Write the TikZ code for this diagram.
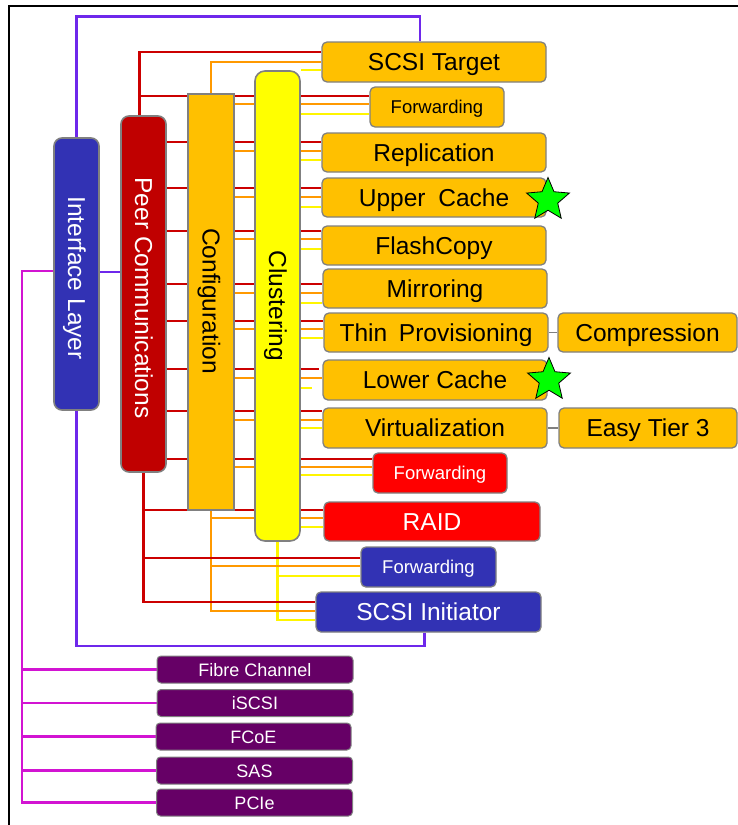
\documentclass[tikz,border=0pt]{standalone}
\usepackage{fontspec}
\setmainfont{Liberation Sans}
\usetikzlibrary{shapes.geometric,calc}
\pgfdeclarelayer{bg}
\pgfsetlayers{bg,main}

\definecolor{barblue}{RGB}{50,50,180}
\definecolor{peerred}{RGB}{192,0,0}
\definecolor{cfgorange}{RGB}{255,192,0}
\definecolor{clyellow}{RGB}{255,255,0}
\definecolor{boxred}{RGB}{255,0,0}
\definecolor{protpurple}{RGB}{102,0,102}
\definecolor{edgegray}{RGB}{128,128,128}
\definecolor{wred}{RGB}{204,0,0}
\definecolor{worange}{RGB}{255,153,0}
\definecolor{wyellow}{RGB}{255,245,0}
\definecolor{wviolet}{RGB}{110,40,235}
\definecolor{wmagenta}{RGB}{210,20,210}

\begin{document}
\begin{tikzpicture}[x=1pt, y=-1pt,
  lbl/.style={font=\fontsize{24.5}{28}\selectfont, text height=17pt, text depth=0pt},
  smalllbl/.style={font=\fontsize{18.5}{22}\selectfont, text height=13pt, text depth=0pt},
  bar/.style={draw=edgegray, line width=1.6pt, minimum width=45pt, inner sep=0pt},
  fn/.style={draw=edgegray, line width=1.3pt, rounded corners=5pt, inner sep=0pt, minimum height=39pt, lbl},
  orangefn/.style={fn, fill=cfgorange, text=black},
  redfn/.style={fn, fill=boxred, text=white},
  bluefn/.style={fn, fill=barblue, text=white},
  proto/.style={draw=edgegray, line width=1pt, rounded corners=4pt, fill=protpurple, text=white,
    minimum width=196pt, minimum height=27pt, inner sep=0pt,
    font=\fontsize{18}{20}\selectfont, text height=13pt, text depth=0pt},
  greenstar/.style={star, star points=5, star point ratio=2.2, draw=black, line width=0.8pt,
    fill=green, minimum size=45pt, inner sep=0pt},
  wr/.style={draw=wred, line width=2.3pt},
  wo/.style={draw=worange, line width=2.3pt},
  wy/.style={draw=wyellow, line width=2.3pt},
  wv/.style={draw=wviolet, line width=2.3pt},
  wm/.style={draw=wmagenta, line width=2.2pt},
  link/.style={draw=edgegray, line width=1.5pt}
]
\useasboundingbox (0,0) rectangle (738,825);

% vertical service layers
\node[bar, rounded corners=8pt, fill=barblue, minimum height=272pt] (IL) at (76.5,274) {};
\node[rotate=-90, text=white, lbl] (ILtxt) at (76.5,278) {Interface Layer};
\node[bar, rounded corners=8pt, fill=peerred, minimum height=356pt] (PC) at (143.5,294) {};
\node[rotate=-90, text=white, lbl] (PCtxt) at (143.5,298) {Peer Communications};
\node[bar, fill=cfgorange, minimum width=46pt, minimum height=416pt] (CF) at (211,302) {};
\node[rotate=-90, lbl] (CFtxt) at (211,301) {Configuration};
\node[bar, rounded corners=10pt, fill=clyellow, minimum height=470pt] (CL) at (277.5,306) {};
\node[rotate=-90, lbl] (CLtxt) at (277.5,306) {Clustering};

% I/O stack components
\node[orangefn, minimum width=224pt, minimum height=40pt] (st) at (434,62) {SCSI Target};
\node[orangefn, smalllbl, minimum width=134pt, minimum height=40pt] (fw1) at (437,107) {Forwarding};
\node[orangefn, minimum width=224pt] (rep) at (434,152.5) {Replication};
\node[orangefn, minimum width=224pt] (uc) at (434,197.5) {Upper\hspace{6pt} Cache};
\node[orangefn, minimum width=224pt] (fc) at (434,245.5) {FlashCopy};
\node[orangefn, minimum width=224pt] (mir) at (435,288.5) {Mirroring};
\node[orangefn, minimum width=224pt] (tp) at (436,332.5) {Thin\hspace{5pt} Provisioning};
\node[orangefn, minimum width=179pt] (cmp) at (647.5,332.5) {Compression};
\node[orangefn, minimum width=224pt, minimum height=40pt] (lc) at (435,380) {Lower Cache};
\node[orangefn, minimum width=224pt, minimum height=40pt] (vir) at (435,428) {Virtualization};
\node[orangefn, minimum width=178pt, minimum height=40pt] (et) at (648,428) {Easy Tier 3};
\node[redfn, smalllbl, minimum width=134pt, minimum height=40pt] (fw2) at (440,473) {Forwarding};
\node[redfn, minimum width=216pt] (raid) at (432,521.5) {RAID};
\node[bluefn, smalllbl, minimum width=135pt, minimum height=40pt] (fw3) at (428.5,567) {Forwarding};
\node[bluefn, minimum width=225pt, minimum height=40pt] (si) at (428.5,612) {SCSI Initiator};

\node[greenstar] (star1) at (548,200) {};
\node[greenstar] (star2) at (549,380) {};

% host interface protocols
\node[proto] (fchan) at (255,669.5) {Fibre Channel};
\node[proto] (iscsi) at (255,703) {iSCSI};
\node[proto, minimum width=195pt] (fcoe) at (253.5,736.5) {FCoE};
\node[proto] (sas) at (254.5,770.5) {SAS};
\node[proto] (pcie) at (254.5,802.5) {PCIe};

\coordinate (ptop) at ($(PC.north)+(-4,0)$);
\coordinate (bus) at (22,271);

\begin{pgfonlayer}{bg}
  \fill[white] (0,0) rectangle (738,825);
  \draw[black, line width=1.6pt] (9,825) -- (9,6) -- (738,6);

  % clustering links
  \foreach \b/\yy in {st/70, fw1/114, rep/160, uc/207, fc/249, mir/303, tp/338, vir/428, fw2/475, raid/527}
    \draw[wy] (CL.east |- 0,\yy) -- (\b.west |- 0,\yy);
  \draw[wy, shorten >=10pt] (CL.east |- 0,388) -- (lc.west |- 0,388);
  \draw[wy] (CL.south) |- (si.west |- 0,620);
  \draw[wy] (CL.south |- 0,576) -- (fw3.west |- 0,576);

  % configuration links
  \foreach \b/\yy in {fw1/104, rep/151, uc/197, fc/239, mir/293, tp/329, lc/378, vir/420, fw2/467}
    \draw[wo] (CF.east |- 0,\yy) -- (\b.west |- 0,\yy);
  \draw[wo] (CF.north) |- (st.west |- 0,62);
  \draw[wo] (CF.south) |- (si.west |- 0,611);
  \draw[wo] (CF.south |- 0,518) -- (raid.west |- 0,518);
  \draw[wo] (CF.south |- 0,566) -- (fw3.west |- 0,566);

  % peer communication links
  \foreach \b/\yy in {rep/142, uc/188, fc/231, mir/284, tp/321, vir/411, fw2/459}
    \draw[wr] (PC.east |- 0,\yy) -- (\b.west |- 0,\yy);
  \draw[wr, shorten >=3pt] (PC.east |- 0,369) -- (lc.west |- 0,369);
  \draw[wr] (ptop) |- (st.west |- 0,52);
  \draw[wr] (ptop |- 0,96) -- (fw1.west |- 0,96);
  \draw[wr] (PC.south) |- (si.west |- 0,602);
  \draw[wr] (PC.south |- 0,510) -- (raid.west |- 0,510);
  \draw[wr] (PC.south |- 0,558) -- (fw3.west |- 0,558);

  % interface layer links
  \draw[wv] (IL.north) |- ($(st.north)+(-14,-25)$) -- ($(st.north)+(-14,0)$);
  \draw[wv] ($(si.south)+(-4,0)$) -- ++(0,13) -| (IL.south);
  \draw[wv] (IL.east |- 0,272) -- (PC.west |- 0,272);

  % protocol bus
  \draw[wm] (IL.west |- bus) -- (bus) |- (pcie.west);
  \foreach \p in {fchan, iscsi, fcoe, sas}
    \draw[wm] (bus |- \p.west) -- (\p.west);

  % sub-feature links
  \draw[link] (tp.east) -- (cmp.west);
  \draw[link] (vir.east) -- (et.west);
\end{pgfonlayer}
\end{tikzpicture}
\end{document}
